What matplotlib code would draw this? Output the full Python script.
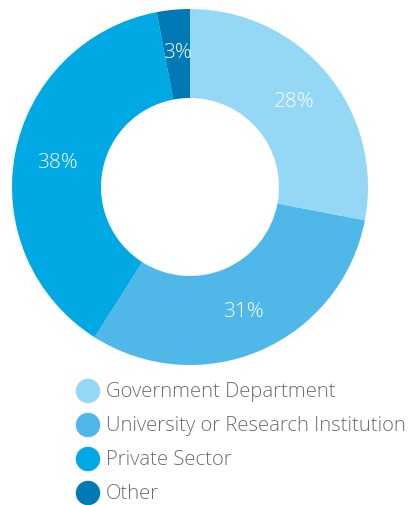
import matplotlib.pyplot as plt
from matplotlib.patches import Circle

labels = ["Government Department", "University or Research Institution", "Private Sector", "Other"]
values = [28, 31, 38, 3]
colors = ["#94d8f6", "#4fb8e8", "#00a8e4", "#0079b4"]

W, H = 408, 506
fig = plt.figure(figsize=(W / 100, H / 100), dpi=100)

# donut
ax = fig.add_axes([12 / W, (H - 366) / H, 356 / W, 356 / H])
wedges, texts, autotexts = ax.pie(values, colors=colors, startangle=90, counterclock=False,
                                  radius=1, autopct="%d%%", pctdistance=0.76,
                                  wedgeprops=dict(width=0.5, edgecolor="none"),
                                  textprops=dict(color="white", fontsize=15, family=["Open Sans", "DejaVu Sans"]))
for t in autotexts:
    t.set_fontweight("light")
ax.set_xlim(-1, 1)
ax.set_ylim(-1, 1)
ax.set_aspect("equal")
ax.axis("off")

# legend drawn by hand
lax = fig.add_axes([0, 0, 1, 1])
lax.set_xlim(0, W)
lax.set_ylim(H, 0)
lax.axis("off")
y0, dy = 392, 34
for i, (lab, col) in enumerate(zip(labels, colors)):
    y = y0 + i * dy
    lax.add_patch(Circle((88, y), 11.5, color=col))
    lax.text(106, y, lab, va="center", ha="left", fontsize=14.6, color="#6d6e71",
             family=["Open Sans", "DejaVu Sans"], fontweight="light")

fig.savefig("out.png", dpi=100)
